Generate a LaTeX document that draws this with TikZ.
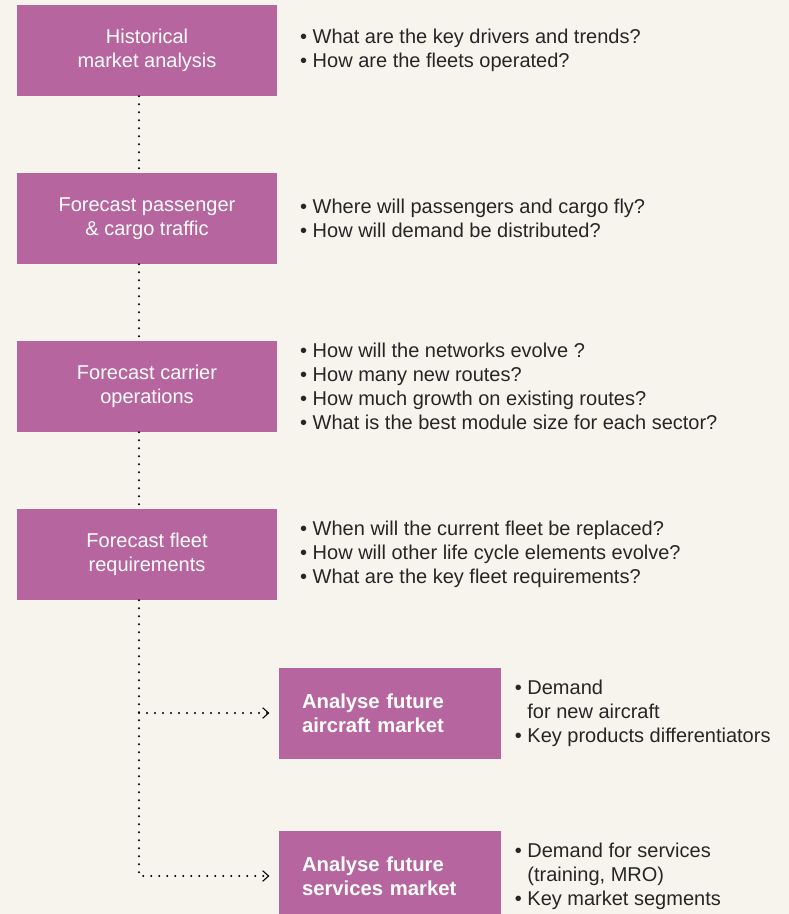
\documentclass[tikz,border=0pt]{standalone}
\usepackage{fontspec}
\setmainfont{Liberation Sans}
\usetikzlibrary{arrows.meta,positioning}
\definecolor{orchid}{HTML}{B6659F}
\definecolor{cream}{HTML}{F7F4EE}
\definecolor{ink}{HTML}{262626}
\tikzset{stage/.style={fill=orchid,text=white,minimum width=195pt,minimum height=68.25pt,inner sep=0pt,align=center,font=\fontsize{15}{18}\selectfont},
  outcome/.style={fill=orchid,text=white,text width=132pt,inner xsep=17.25pt,inner ysep=0pt,minimum height=68.25pt,align=left,font=\fontsize{15.2}{18}\selectfont\bfseries},
  asks/.style={text=ink,inner sep=0pt,align=left,anchor=west,font=\fontsize{15}{18}\selectfont},
  dots/.style={line width=1.8pt,line cap=round,dash pattern=on 0pt off 6pt},
  branch/.style={dots,-{Straight Barb[length=4.5pt,width=8pt,line width=0.8pt]},shorten >=7pt}}

\begin{document}
\begin{tikzpicture}[x=0.75pt,y=-0.75pt]
\useasboundingbox[fill=cream] (0,0) rectangle (789,914);
\begin{scope}
\clip (0,0) rectangle (789,914);
% stages
\node[stage] (hist) at (147,50.5) {Historical\\market analysis};
\node[stage] (pax) at (147,218.5) {Forecast passenger\\\& cargo traffic};
\node[stage] (ops) at (147,386.5) {Forecast carrier\\operations};
\node[stage] (fleet) at (147,554.5) {Forecast fleet\\requirements};
\node[outcome] (acm) at (390,713) {Analyse future\\aircraft market};
\node[outcome] (svc) at (390,876) {Analyse future\\services market};
% questions
\node[asks,right=17pt of hist] {\textbullet\ What are the key drivers and trends?\\\textbullet\ How are the fleets operated?};
\node[asks,right=17pt of pax] {\textbullet\ Where will passengers and cargo fly?\\\textbullet\ How will demand be distributed?};
\node[asks,right=17pt of ops] {\textbullet\ How will the networks evolve ?\\\textbullet\ How many new routes?\\\textbullet\ How much growth on existing routes?\\\textbullet\ What is the best module size for each sector?};
\node[asks,right=17pt of fleet] {\textbullet\ When will the current fleet be replaced?\\\textbullet\ How will other life cycle elements evolve?\\\textbullet\ What are the key fleet requirements?};
\node[asks,right=10pt of acm] {\textbullet\ Demand\\\hphantom{\textbullet\ }for new aircraft\\\textbullet\ Key products differentiators};
\node[asks,right=10pt of svc] {\textbullet\ Demand for services\\\hphantom{\textbullet\ }(training, MRO)\\\textbullet\ Key market segments};
% links
\draw[dots] ([xshift=-6pt]hist.south) -- ([xshift=-6pt]pax.north);
\draw[dots] ([xshift=-6pt]pax.south) -- ([xshift=-6pt]ops.north);
\draw[dots] ([xshift=-6pt]ops.south) -- ([xshift=-6pt]fleet.north);
\coordinate (spine) at ([xshift=-6pt]fleet.south);
\draw[branch] (spine |- acm.west) -- (acm.west);
\draw[branch] (spine) |- (svc.west);
\end{scope}
\end{tikzpicture}
\end{document}
